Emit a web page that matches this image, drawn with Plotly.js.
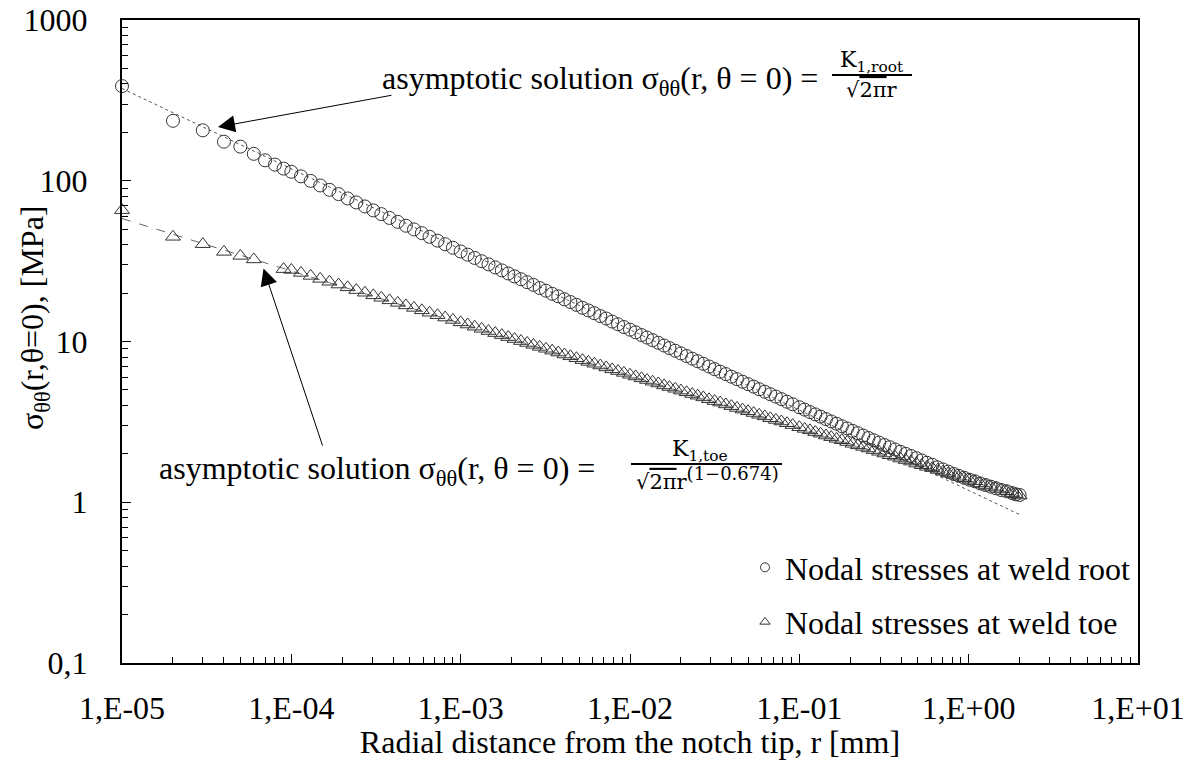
<!DOCTYPE html>
<html><head><meta charset="utf-8">
<script src="https://cdn.plot.ly/plotly-3.0.1.min.js"></script>
<style>html,body{margin:0;padding:0;background:#fff}#chart{width:1192px;height:760px}</style>
</head><body><div id="chart"></div>
<script>
// ---- data ----
const radius = [
  1e-5,2e-5,3e-5,4e-5,5e-5,6e-5,7e-5,8e-5,9e-5,
  1.00e-4,1.14e-4,1.30e-4,1.48e-4,1.68e-4,1.90e-4,2.15e-4,2.42e-4,2.72e-4,3.05e-4,3.40e-4,3.80e-4,4.25e-4,4.75e-4,5.30e-4,5.90e-4,6.55e-4,7.30e-4,8.10e-4,9.00e-4,
  1.00e-3,1.10e-3,1.21e-3,1.33e-3,1.46e-3,1.60e-3,1.75e-3,1.91e-3,2.08e-3,2.27e-3,2.47e-3,2.69e-3,2.93e-3,3.19e-3,3.47e-3,3.77e-3,4.10e-3,4.45e-3,4.83e-3,5.24e-3,5.68e-3,6.16e-3,6.68e-3,7.24e-3,7.85e-3,8.50e-3,9.20e-3,
  0.0100,0.0108,0.0117,0.0126,0.0136,0.0147,0.0159,0.0171,0.0185,0.0200,0.0216,0.0233,0.0251,0.0271,0.0293,0.0316,0.0341,0.0368,0.0397,0.0428,0.0462,0.0498,0.0537,0.0579,0.0625,0.0674,0.0727,0.0784,0.0846,0.0913,
  0.1000,0.1075,0.1156,0.1242,0.1335,0.1436,0.1543,0.1659,0.1783,0.1917,0.2061,0.2216,0.2382,0.2560,0.2752,0.2959,0.3181,0.3419,0.3676,0.3951,0.4248,0.4566,0.4909,0.5277,0.5673,0.6098,0.6556,0.7047,0.7576,0.8144,0.8755,0.9412,
  1.012,1.088,1.169,1.257,1.351,1.452,1.561,1.679,1.805,1.900,2.000
];
const rootStress = [
  388,236,206,175,163,147,134,126,119,
  113.8,106.5,99.8,93.5,87.8,82.6,77.6,73.3,69.2,65.4,62.0,58.7,55.5,52.5,49.8,47.2,44.8,42.4,40.3,38.3,
  36.3,34.7,33.1,31.6,30.2,28.9,27.7,26.5,25.4,24.4,23.4,22.5,21.5,20.7,19.8,19.1,18.3,17.6,16.9,16.2,15.6,15.0,14.4,13.9,13.3,12.8,12.3,
  11.85,11.41,10.97,10.58,10.19,9.81,9.44,9.10,8.76,8.43,8.12,7.82,7.54,7.26,6.99,6.73,6.49,6.27,6.04,5.83,5.62,5.43,5.24,5.05,4.87,4.70,4.54,4.38,4.22,4.07,
  3.90,3.77,3.64,3.52,3.41,3.29,3.18,3.08,2.97,2.88,2.78,2.69,2.60,2.51,2.43,2.35,2.27,2.20,2.13,2.06,2.00,1.94,1.88,1.82,1.76,1.71,1.65,1.60,1.55,1.50,1.46,1.42,
  1.38,1.35,1.31,1.28,1.25,1.22,1.19,1.17,1.14,1.12,1.11
];
const toeStress = [
  65.6,44.8,40.3,36.1,34.1,32.4,null,null,28.2,
  27.87,26.71,25.59,24.53,23.53,22.61,21.72,20.89,20.11,19.37,18.70,18.03,17.39,16.77,16.18,15.63,15.10,14.58,14.09,13.62,
  13.15,12.75,12.36,11.99,11.62,11.28,10.96,10.65,10.36,10.06,9.79,9.53,9.26,9.01,8.77,8.54,8.30,8.09,7.87,7.66,7.47,7.27,7.09,6.90,6.71,6.55,6.38,
  6.21,6.06,5.90,5.76,5.62,5.48,5.33,5.21,5.08,4.95,4.83,4.71,4.60,4.49,4.37,4.26,4.17,4.06,3.96,3.86,3.77,3.68,3.59,3.50,3.42,3.33,3.25,3.18,3.10,3.02,
  2.93,2.86,2.80,2.73,2.67,2.60,2.54,2.48,2.43,2.37,2.31,2.26,2.21,2.16,2.11,2.06,2.01,1.96,1.92,1.87,1.83,1.79,1.74,1.70,1.66,1.63,1.59,1.55,1.51,1.48,1.44,1.41,
  1.38,1.35,1.31,1.28,1.25,1.23,1.20,1.17,1.14,1.12,1.10
];
// asymptotic solution lines (end points)
const rootLineR = [1e-5, 2.0];
const rootLineS = [375, 0.838];
const toeLineR = [1e-5, 2.0];
const toeLineS = [58.2, 1.09];

const xTickVals = [1e-5,1e-4,1e-3,1e-2,1e-1,1,10];
const xTickText = ['1,E-05','1,E-04','1,E-03','1,E-02','1,E-01','1,E+00','1,E+01'];
const yTickVals = [0.1,1,10,100,1000];
const yTickText = ['0,1','1','10','100','1000'];
const seriesNames = ['Nodal stresses at weld root','Nodal stresses at weld toe'];
const xTitle = 'Radial distance from the notch tip, r [mm]';
const yTitle = 'σ<sub>θθ</sub>(r,θ=0), [MPa]';

// ---- layout helpers (plot area in page pixels) ----
const PL = 122, PR = 1138, PT = 20, PB = 663;
const px = x => (x - PL) / (PR - PL);
const py = y => (PB - y) / (PB - PT);

const serif = 'Liberation Serif, Times New Roman, serif';
const mathF = 'DejaVu Serif, serif';

const traces = [
  {x: rootLineR, y: rootLineS, mode: 'lines', line: {color: '#555', width: 1, dash: 'dot'}, showlegend: false, hoverinfo: 'skip'},
  {x: toeLineR, y: toeLineS, mode: 'lines', line: {color: '#666', width: 1, dash: 'dash'}, showlegend: false, hoverinfo: 'skip'},
  {x: radius, y: rootStress, mode: 'markers', showlegend: false, cliponaxis: false,
   marker: {symbol: 'circle-open', size: 13, color: '#333', line: {width: 1}}},
  {x: radius, y: toeStress, mode: 'markers', showlegend: false, cliponaxis: false,
   marker: {symbol: 'triangle-up-open', size: 13, color: '#333', line: {width: 1}}},
  // legend entries (small markers as in the reference legend)
  {x: [null], y: [null], mode: 'markers', name: seriesNames[0], legendgroup: 'a',
   marker: {symbol: 'circle-open', size: 9, color: '#333', line: {width: 1}}},
  {x: [null], y: [null], mode: 'markers', name: seriesNames[1], legendgroup: 'b',
   marker: {symbol: 'triangle-up-open', size: 9, color: '#333', line: {width: 1}}}
];

const ann = [];
// y-axis title (rotated)
ann.push({xref:'paper', yref:'paper', x: px(34), y: py(318), xanchor:'center', yanchor:'middle', showarrow:false,
  textangle: -90, text: yTitle, font:{family: serif, size: 32, color:'#000'}});
// top asymptotic-solution label
ann.push({xref:'paper', yref:'paper', x: px(380), y: py(80), xanchor:'left', yanchor:'middle', showarrow:false,
  text:'asymptotic solution σ<sub>θθ</sub>(r, θ = 0) = ', font:{family: serif, size: 32, color:'#000'}});
ann.push({xref:'paper', yref:'paper', x: px(872), y: py(61), xanchor:'center', yanchor:'middle', showarrow:false,
  text:'K<sub>1,root</sub>', font:{family: mathF, size: 22, color:'#000'}});
ann.push({xref:'paper', yref:'paper', x: px(872), y: py(90), xanchor:'center', yanchor:'middle', showarrow:false,
  text:'√<span style="text-decoration:overline">2π</span>r', font:{family: mathF, size: 21, color:'#000'}});
// arrow to root curve
ann.push({xref:'paper', yref:'paper', x: px(218), y: py(127), text:'', showarrow:true, ax: 175, ay: -32,
  arrowhead: 2, arrowsize: 3.4, arrowwidth: 1, arrowcolor:'#000', standoff: 0});
// bottom asymptotic-solution label
ann.push({xref:'paper', yref:'paper', x: px(157), y: py(470), xanchor:'left', yanchor:'middle', showarrow:false,
  text:'asymptotic solution σ<sub>θθ</sub>(r, θ = 0) = ', font:{family: serif, size: 32, color:'#000'}});
ann.push({xref:'paper', yref:'paper', x: px(700), y: py(450), xanchor:'center', yanchor:'middle', showarrow:false,
  text:'K<sub>1,toe</sub>', font:{family: mathF, size: 22, color:'#000'}});
ann.push({xref:'paper', yref:'paper', x: px(707), y: py(478), xanchor:'center', yanchor:'middle', showarrow:false,
  text:'√<span style="text-decoration:overline">2π</span>r<sup><span style="font-size:18px">(1−0.674)</span></sup>',
  font:{family: mathF, size: 21, color:'#000'}});
// arrow to toe curve
ann.push({xref:'paper', yref:'paper', x: px(263.5), y: py(268.5), text:'', showarrow:true, ax: 59.5, ay: 178.5,
  arrowhead: 2, arrowsize: 3.4, arrowwidth: 1, arrowcolor:'#000', standoff: 0});

const shapes = [
  {type:'line', xref:'paper', yref:'paper', x0: px(832), x1: px(912), y0: py(75), y1: py(75), line:{color:'#000', width:2}},
  {type:'line', xref:'paper', yref:'paper', x0: px(631), x1: px(782), y0: py(464), y1: py(464), line:{color:'#000', width:2}}
];

const axisCommon = {
  type: 'log', showgrid: false, zeroline: false,
  showline: true, linecolor: '#000', linewidth: 2, mirror: true,
  ticks: 'inside', ticklen: 9, tickwidth: 1, tickcolor: '#000',
  tickmode: 'array',
  minor: {ticks: 'inside', ticklen: 6, tickwidth: 1, tickcolor: '#000', dtick: 'D1', showgrid: false},
  tickfont: {family: serif, size: 32, color: '#000'}
};

const layout = {
  width: 1192, height: 760,
  margin: {l: PL, r: 1192 - PR, t: PT, b: 760 - PB},
  paper_bgcolor: '#fff', plot_bgcolor: '#fff',
  font: {family: serif, color: '#000'},
  xaxis: Object.assign({}, axisCommon, {
    range: [-5, 1], tickvals: xTickVals, ticktext: xTickText, ticklabelstandoff: 16,
    title: {text: xTitle, font: {family: serif, size: 32, color: '#000'}, standoff: 10}
  }),
  yaxis: Object.assign({}, axisCommon, {
    range: [-1, 3], tickvals: yTickVals, ticktext: yTickText, ticklabelstandoff: 26
  }),
  legend: {x: px(745), y: py(540), xanchor: 'left', yanchor: 'top', bgcolor: 'rgba(0,0,0,0)',
    font: {family: serif, size: 32, color: '#000'}, tracegroupgap: 10, itemwidth: 30},
  annotations: ann,
  shapes: shapes,
  showlegend: true
};

Plotly.newPlot('chart', traces, layout, {displayModeBar: false, staticPlot: true});
</script>
</body></html>
